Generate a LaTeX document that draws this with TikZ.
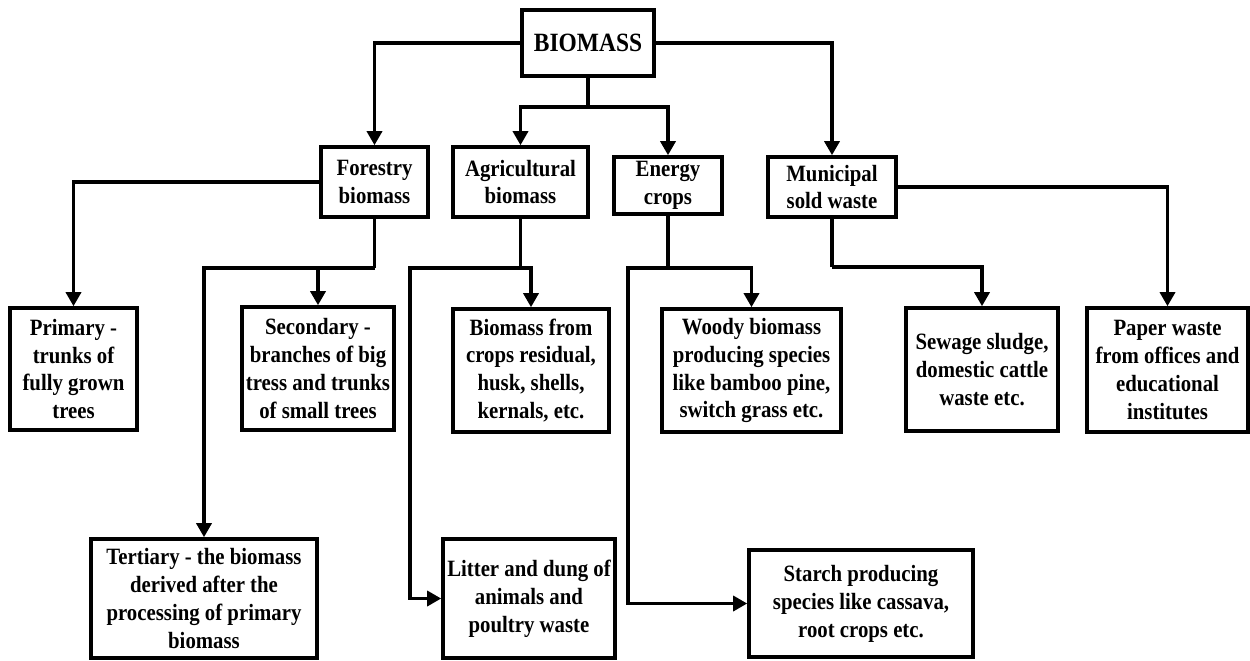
\documentclass[tikz,border=0pt]{standalone}
\usepackage{fontspec}
\setmainfont{Liberation Serif}[FakeStretch=0.89]
\usetikzlibrary{arrows.meta}
\tikzset{
  box/.style={draw, line width=2pt, inner sep=0pt, align=center,
    font=\fontsize{13.3}{15.9}\selectfont\bfseries},
  wh/.style 2 args={minimum width=#1*0.02cm, minimum height=#2*0.02cm},
  conn/.style={line width=2pt},
  arr/.style={conn, -{Triangle[width=8.5pt,length=8pt]}}
}
\begin{document}
\begin{tikzpicture}[x=0.02cm, y=-0.02cm]
\path[use as bounding box] (0,0) rectangle (1250,660);
% nodes
\node[box, wh={132}{66}, font=\fontsize{15}{18}\selectfont\bfseries] (bio) at (588,43) {BIOMASS};
\node[box, wh={107}{70}] (for) at (374.5,182) {Forestry\\biomass};
\node[box, wh={135}{70}] (agr) at (520.5,182) {Agricultural\\biomass};
\node[box, wh={108}{57}] (ene) at (668,185.5) {Energy\\crops};
\node[box, wh={128}{60}] (mun) at (832,187) {Municipal\\sold waste};
\node[box, wh={127}{122}] (pri) at (73.5,369) {Primary -\\trunks of\\fully grown\\trees};
\node[box, wh={152}{123}] (sec) at (318,368.5) {Secondary -\\branches of big\\tress and trunks\\of small trees};
\node[box, wh={156}{123}] (bfc) at (531,370.5) {Biomass from\\crops residual,\\husk, shells,\\kernals, etc.};
\node[box, wh={179}{123}] (woo) at (751.5,370.5) {Woody biomass\\producing species\\like bamboo pine,\\switch grass etc.};
\node[box, wh={152}{123}] (sew) at (982,369.5) {Sewage sludge,\\domestic cattle\\waste etc.};
\node[box, wh={161}{124}] (pap) at (1167.5,370) {Paper waste\\from offices and\\educational\\institutes};
\node[box, wh={226}{119}] (ter) at (204,598.5) {Tertiary - the biomass\\derived after the\\processing of primary\\biomass};
\node[box, wh={172}{119}] (lit) at (529,598.5) {Litter and dung of\\animals and\\poultry waste};
\node[box, wh={224}{107}] (sta) at (861,603.5) {Starch producing\\species like cassava,\\root crops etc.};
% junctions
\coordinate (j1) at (588,107);
\coordinate (j2) at (374.5,268);
\coordinate (j3) at (520.5,268);
\coordinate (c3) at (410,268);
\coordinate (j4) at (668,268);
\coordinate (c4) at (628,268);
\coordinate (j5) at (832,267);
% connectors
\draw[arr] (bio.west) -| (for.north);
\draw[arr] (bio.east) -| (mun.north);
\draw[conn] (bio.south) -- (j1);
\draw[arr] (j1) -| (agr.north);
\draw[arr] (j1) -| (ene.north);
\draw[arr] (for.west) -| (pri.north);
\draw[conn] (for.south) -- (j2);
\draw[arr] (j2) -| (sec.north);
\draw[arr] (j2) -| (ter.north);
\draw[conn] (agr.south) -- (j3);
\draw[arr] (j3) -| (bfc.north);
\draw[arr] (j3) -- (c3) |- (lit.west);
\draw[conn] (ene.south) -- (j4);
\draw[arr] (j4) -| (woo.north);
\draw[arr] (j4) -- (c4) |- (sta.west);
\draw[conn] (mun.south) -- (j5);
\draw[arr] (j5) -| (sew.north);
\draw[arr] (mun.east) -| (pap.north);
\end{tikzpicture}
\end{document}
